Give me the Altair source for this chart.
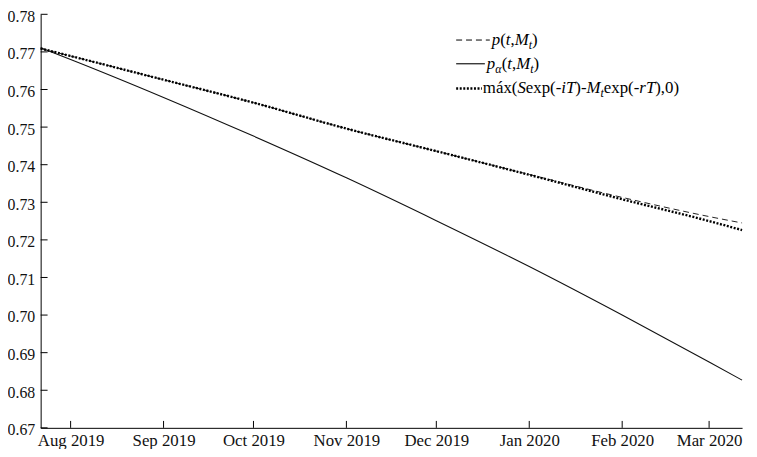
import altair as alt
import pandas as pd

# ---------------- data ----------------
dates = ["2019-07-22", "2019-08-01", "2019-09-01", "2019-10-01", "2019-11-01",
         "2019-12-01", "2020-01-01", "2020-02-01", "2020-03-01", "2020-03-12"]
p_vals = [0.7709, 0.7689, 0.7626, 0.7565, 0.7496, 0.7436, 0.7374, 0.7313, 0.7262, 0.7245]
p_alpha_vals = [0.7711, 0.7680, 0.7579, 0.7476, 0.7365, 0.7251, 0.7129, 0.7000, 0.6875, 0.6827]
max_vals = [0.7709, 0.7689, 0.7626, 0.7565, 0.7496, 0.7436, 0.7373, 0.7308, 0.7250, 0.7226]

y_ticks = [0.67, 0.68, 0.69, 0.70, 0.71, 0.72, 0.73, 0.74, 0.75, 0.76, 0.77, 0.78]
x_tick_dates = ["2019-08-01", "2019-09-01", "2019-10-01", "2019-11-01",
                "2019-12-01", "2020-01-01", "2020-02-01", "2020-03-01"]

# legend label pieces: (text, style)  n = normal, i = italic, s = italic subscript
legend_rows = [
    [("p", "i"), ("(", "n"), ("t", "i"), (",", "n"), ("M", "i"), ("t", "s"), (")", "n")],
    [("p", "i"), ("α", "s"), ("(", "n"), ("t", "i"), (",", "n"), ("M", "i"), ("t", "s"), (")", "n")],
    [("máx(", "n"), ("S", "i"), ("exp(-", "n"), ("iT", "i"), (")-", "n"), ("M", "i"),
     ("t", "s"), ("exp(-", "n"), ("rT", "i"), ("),0)", "n")],
]

# ---------------- layout / style ----------------
W, H = 709, 418
FONT = "Liberation Serif"
X_FONT = 17
Y_FONT = 16
LEG_FONT = 17
SUB_FONT = 12
INK = "#000000"


def dt(s):
    y, m, d = (int(v) for v in s.split("-"))
    return alt.DateTime(year=y, month=m, date=d, utc=True)


df_p = pd.DataFrame({"date": dates, "value": p_vals})
df_pa = pd.DataFrame({"date": dates, "value": p_alpha_vals})
df_max = pd.DataFrame({"date": dates, "value": max_vals})
df_yt = pd.DataFrame({"value": y_ticks})
df_xt = pd.DataFrame({"date": x_tick_dates})

x_scale = alt.Scale(type="utc", domain=[dt(dates[0]), dt(dates[-1])], nice=False)
y_scale = alt.Scale(domain=[y_ticks[0], y_ticks[-1]], nice=False, zero=False)

x_axis = alt.Axis(values=[dt(d) for d in x_tick_dates], format="%b %Y", title=None,
                  ticks=False, tickSize=0, labelPadding=5, grid=False, domainColor=INK,
                  labelFlush=False, labelOverlap=False, labelFontSize=X_FONT,
                  labelFont=FONT, labelColor="#111111")
y_axis = alt.Axis(values=y_ticks, format=".2f", title=None, ticks=False, tickSize=0,
                  labelPadding=6, labelOffset=2, grid=False, domainColor=INK,
                  labelFlush=False, labelOverlap=False,
                  labelFontSize=Y_FONT, labelFont=FONT, labelColor="#111111")

X = alt.X("date:T", scale=x_scale, axis=x_axis)
Y = alt.Y("value:Q", scale=y_scale, axis=y_axis)

dashed = alt.Chart(df_p).mark_line(color="#222222", strokeWidth=1, strokeDash=[6, 4],
                                   interpolate="monotone").encode(x=X, y=Y)
solid = alt.Chart(df_pa).mark_line(color="#111111", strokeWidth=1.1,
                                   interpolate="monotone").encode(x=X, y=Y)
dotted = alt.Chart(df_max).mark_line(color=INK, strokeWidth=2.4, strokeDash=[2, 1.6],
                                     interpolate="monotone").encode(x=X, y=Y)

# inward ticks
y_tick_rules = alt.Chart(df_yt).mark_rule(color=INK, strokeWidth=1).encode(
    y=Y, x=alt.value(0), x2=alt.value(7))
x_tick_rules = alt.Chart(df_xt).mark_rule(color=INK, strokeWidth=1).encode(
    x=X, y=alt.value(H), y2=alt.value(H - 7))

# ---------------- manual legend ----------------
W_N = {"(": .333, ")": .333, ",": .25, "-": .333, "0": .5, "m": .778, "á": .444,
       "x": .5, "e": .444, "p": .5}
W_I = {"p": .5, "t": .278, "M": .833, "S": .5, "i": .278, "T": .556, "r": .389, "α": .55}

row_y = [26, 50, 75]
sym_x0 = 420
sym_x1 = [454, 449, 446]
text_x0 = [456, 451, 447]
sym_dash = [[6, 4], None, [2, 1.6]]
sym_width = [1, 1.1, 2.4]

legend_layers = []
for r, segs in enumerate(legend_rows):
    kw = dict(color=INK, strokeWidth=sym_width[r])
    if sym_dash[r] is not None:
        kw["strokeDash"] = sym_dash[r]
    legend_layers.append(
        alt.Chart(alt.Data(values=[{}])).mark_rule(**kw).encode(
            x=alt.value(sym_x0), x2=alt.value(sym_x1[r]), y=alt.value(row_y[r]))
    )
    cx = text_x0[r]
    for txt, st in segs:
        mk = dict(font=FONT, align="left", color=INK)
        if st == "s":
            size, dy, table = SUB_FONT, 9, W_I
            mk["fontStyle"] = "italic"
        elif st == "i":
            size, dy, table = LEG_FONT, 5, W_I
            mk["fontStyle"] = "italic"
        else:
            size, dy, table = LEG_FONT, 5, W_N
        mk["fontSize"] = size
        legend_layers.append(
            alt.Chart(alt.Data(values=[{}])).mark_text(baseline="alphabetic", **mk).encode(
                x=alt.value(cx), y=alt.value(row_y[r] + dy), text=alt.value(txt))
        )
        cx += sum(table.get(c, .5) for c in txt) * size

chart = alt.layer(dashed, solid, dotted, y_tick_rules, x_tick_rules, *legend_layers).properties(
    width=W, height=H,
    autosize=alt.AutoSizeParams(type="none"),
    padding={"left": 33, "top": 4, "right": 7, "bottom": 19},
).configure(font=FONT).configure_view(stroke=None)

chart.save("out.html", embed_options={"renderer": "svg", "actions": False})
